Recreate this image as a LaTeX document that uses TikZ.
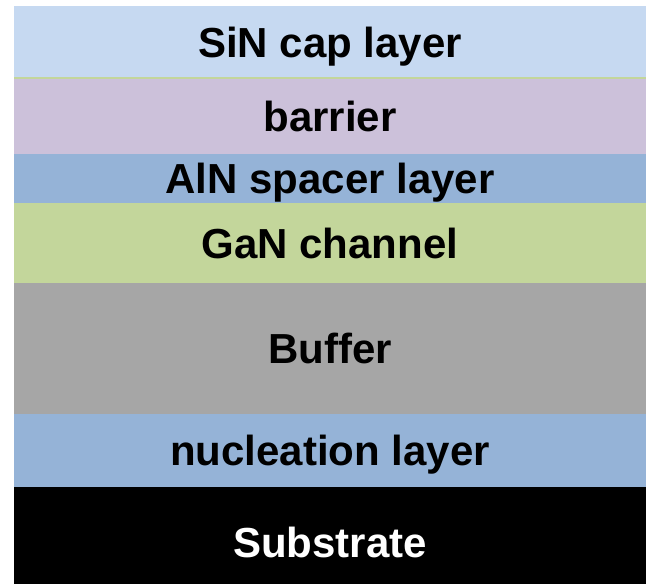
\documentclass[tikz,border=0pt]{standalone}
\usepackage{fontspec}
\setmainfont{Liberation Sans}
\usetikzlibrary{positioning}
\definecolor{capblue}{HTML}{C6D9F1}
\definecolor{barrierlilac}{HTML}{CCC1DA}
\definecolor{spacerblue}{HTML}{95B3D7}
\definecolor{channelgreen}{HTML}{C3D69B}
\definecolor{buffergrey}{HTML}{A6A6A6}
\tikzset{%
	layer/.style = {rectangle, fill = #1, minimum width = 316pt, inner sep = 0pt, outer sep = 0pt, text height = 15pt, text depth = 0pt, font = \fontsize{21}{25}\selectfont\bfseries},
	seam/.style = {draw = channelgreen, line width = 0.6pt}
}

\begin{document}
\begin{tikzpicture}
		\useasboundingbox (0,0) rectangle (323pt,-292pt);
		\node [layer = capblue, minimum height = 36pt, anchor = north west] (cap) at (7pt,-3pt) {SiN cap layer};
		\node [layer = barrierlilac, minimum height = 38pt, below = 0pt of cap] (barrier) {barrier};
		\node [layer = spacerblue, minimum height = 24.5pt, below = 0pt of barrier] (spacer) {AlN spacer layer};
		\node [layer = channelgreen, minimum height = 40pt, below = 0pt of spacer] (channel) {GaN channel};
		\node [layer = buffergrey, minimum height = 65.5pt, below = 0pt of channel] (buffer) {Buffer};
		\node [layer = spacerblue, minimum height = 36.5pt, below = 0pt of buffer] (nucleation) {nucleation layer};
		\node [layer = black, minimum height = 48.5pt, text height = 21.5pt, below = 0pt of nucleation, text = white] (substrate) {Substrate};
		\path [seam] (cap.south west) -- (cap.south east);
		\end{tikzpicture}
\end{document}
